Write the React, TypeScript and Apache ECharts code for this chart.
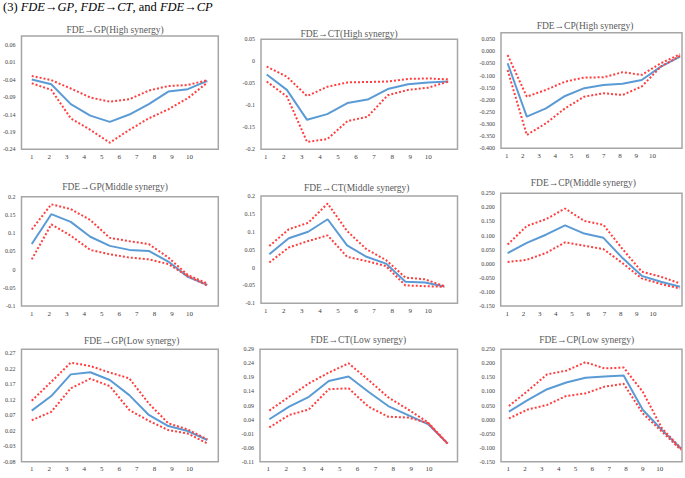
import React, { useEffect, useRef } from "react";
import * as echarts from "echarts";

// ---------- data ----------
const PERIODS = [1, 2, 3, 4, 5, 6, 7, 8, 9, 10];
const X_TICK_LABELS = ["1", "2", "3", "4", "5", "6", "7", "8", "9", "10"];

const HEADING = "(3) FDE→GP, FDE→CT, and FDE→CP";
const PANEL_TITLES = [
  "FDE→GP(High synergy)", "FDE→CT(High synergy)", "FDE→CP(High synergy)",
  "FDE→GP(Middle synergy)", "FDE→CT(Middle synergy)", "FDE→CP(Middle synergy)",
  "FDE→GP(Low synergy)", "FDE→CT(Low synergy)", "FDE→CP(Low synergy)",
];

// High synergy
const GP_HIGH_IRF = [-0.039, -0.053, -0.110, -0.143, -0.161, -0.140, -0.110, -0.074, -0.067, -0.043];
const GP_HIGH_UP = [-0.029, -0.041, -0.065, -0.091, -0.103, -0.096, -0.071, -0.058, -0.055, -0.041];
const GP_HIGH_LO = [-0.050, -0.069, -0.151, -0.184, -0.221, -0.184, -0.151, -0.125, -0.093, -0.048];

const CT_HIGH_IRF = [-0.030, -0.065, -0.133, -0.120, -0.095, -0.087, -0.063, -0.052, -0.048, -0.046];
const CT_HIGH_UP = [-0.012, -0.035, -0.079, -0.058, -0.048, -0.047, -0.046, -0.040, -0.039, -0.041];
const CT_HIGH_LO = [-0.046, -0.080, -0.183, -0.177, -0.136, -0.126, -0.077, -0.065, -0.060, -0.046];

const CP_HIGH_IRF = [-0.049, -0.269, -0.235, -0.184, -0.152, -0.139, -0.134, -0.118, -0.063, -0.022];
const CP_HIGH_UP = [-0.015, -0.187, -0.159, -0.125, -0.108, -0.107, -0.086, -0.097, -0.049, -0.012];
const CP_HIGH_LO = [-0.077, -0.345, -0.297, -0.235, -0.187, -0.173, -0.180, -0.145, -0.063, -0.019];

// Middle synergy
const GP_MID_IRF = [0.070, 0.152, 0.131, 0.090, 0.065, 0.054, 0.051, 0.022, -0.020, -0.042];
const GP_MID_UP = [0.110, 0.179, 0.166, 0.136, 0.087, 0.078, 0.070, 0.033, -0.015, -0.038];
const GP_MID_LO = [0.028, 0.124, 0.093, 0.054, 0.042, 0.033, 0.028, 0.015, -0.018, -0.044];

const CT_MID_IRF = [0.037, 0.082, 0.100, 0.135, 0.062, 0.030, 0.011, -0.040, -0.042, -0.053];
const CT_MID_UP = [0.060, 0.107, 0.125, 0.179, 0.102, 0.051, 0.021, -0.028, -0.033, -0.052];
const CT_MID_LO = [0.014, 0.056, 0.074, 0.090, 0.030, 0.018, 0.004, -0.050, -0.052, -0.054];

const CP_MID_IRF = [0.038, 0.074, 0.103, 0.136, 0.107, 0.092, 0.020, -0.043, -0.064, -0.082];
const CP_MID_UP = [0.068, 0.134, 0.158, 0.196, 0.152, 0.138, 0.052, -0.028, -0.046, -0.070];
const CP_MID_LO = [0.006, 0.014, 0.038, 0.076, 0.064, 0.052, 0.002, -0.052, -0.072, -0.088];

// Low synergy
const GP_LOW_IRF = [0.085, 0.132, 0.202, 0.209, 0.184, 0.135, 0.071, 0.035, 0.019, -0.010];
const GP_LOW_UP = [0.117, 0.178, 0.240, 0.229, 0.208, 0.189, 0.108, 0.044, 0.024, -0.008];
const GP_LOW_LO = [0.054, 0.081, 0.157, 0.188, 0.164, 0.087, 0.052, 0.022, 0.011, -0.021];

const CT_LOW_IRF = [0.041, 0.086, 0.121, 0.177, 0.193, 0.139, 0.088, 0.056, 0.024, -0.045];
const CT_LOW_UP = [0.072, 0.121, 0.169, 0.207, 0.240, 0.181, 0.119, 0.076, 0.030, -0.045];
const CT_LOW_LO = [0.012, 0.056, 0.076, 0.148, 0.151, 0.086, 0.050, 0.047, 0.028, -0.047];

const CP_LOW_IRF = [0.028, 0.070, 0.108, 0.132, 0.149, 0.153, 0.157, 0.035, -0.037, -0.103];
const CP_LOW_UP = [0.048, 0.103, 0.161, 0.174, 0.204, 0.182, 0.185, 0.099, -0.031, -0.103];
const CP_LOW_LO = [0.004, 0.036, 0.052, 0.084, 0.093, 0.117, 0.127, 0.022, -0.043, -0.108];

// ---------- layout (pixels) ----------
type Panel = {
  title: string; tx: number; ty: number;
  L: number; R: number; T: number; B: number;
  lab1: number; lab10: number; d1: number; d10: number;
  yMin: number; yMax: number; yStep: number; dec: number | null;
  irf: number[]; up: number[]; lo: number[];
};

const PANELS: Panel[] = [
  { title: PANEL_TITLES[0], tx: 115, ty: 30, L: 20.7, R: 218.3, T: 36, B: 149.3, lab1: 31, lab10: 189.3, d1: 31, d10: 207.3,
    yMin: -0.24, yMax: 0.086, yStep: 0.05, dec: 2, irf: GP_HIGH_IRF, up: GP_HIGH_UP, lo: GP_HIGH_LO },
  { title: PANEL_TITLES[1], tx: 349, ty: 34, L: 261, R: 457.5, T: 39.3, B: 149.3, lab1: 265.7, lab10: 428.3, d1: 266.7, d10: 448.3,
    yMin: -0.2, yMax: 0.05, yStep: 0.05, dec: null, irf: CT_HIGH_IRF, up: CT_HIGH_UP, lo: CT_HIGH_LO },
  { title: PANEL_TITLES[2], tx: 585, ty: 26, L: 501, R: 684.3, T: 32.7, B: 148.3, lab1: 506.7, lab10: 654.3, d1: 507.7, d10: 682.3,
    yMin: -0.4, yMax: 0.077, yStep: 0.05, dec: 3, irf: CP_HIGH_IRF, up: CP_HIGH_UP, lo: CP_HIGH_LO },
  { title: PANEL_TITLES[3], tx: 115, ty: 186.7, L: 20.7, R: 218.3, T: 196.7, B: 306, lab1: 31, lab10: 189.3, d1: 31, d10: 207.3,
    yMin: -0.1, yMax: 0.2, yStep: 0.05, dec: null, irf: GP_MID_IRF, up: GP_MID_UP, lo: GP_MID_LO },
  { title: PANEL_TITLES[4], tx: 356.7, ty: 188.3, L: 261, R: 457.5, T: 196, B: 303.3, lab1: 265.7, lab10: 428.3, d1: 269.3, d10: 444.3,
    yMin: -0.1, yMax: 0.2, yStep: 0.05, dec: null, irf: CT_MID_IRF, up: CT_MID_UP, lo: CT_MID_LO },
  { title: PANEL_TITLES[5], tx: 583.3, ty: 182.7, L: 500.7, R: 684.3, T: 193.3, B: 306, lab1: 507.3, lab10: 655, d1: 507.7, d10: 682.3,
    yMin: -0.15, yMax: 0.25, yStep: 0.05, dec: 3, irf: CP_MID_IRF, up: CP_MID_UP, lo: CP_MID_LO },
  { title: PANEL_TITLES[6], tx: 131.7, ty: 340.7, L: 20.7, R: 218.3, T: 349.3, B: 461.7, lab1: 31, lab10: 189.3, d1: 31, d10: 207.3,
    yMin: -0.08, yMax: 0.283, yStep: 0.05, dec: 2, irf: GP_LOW_IRF, up: GP_LOW_UP, lo: GP_LOW_LO },
  { title: PANEL_TITLES[7], tx: 358.3, ty: 340, L: 260, R: 457.5, T: 349.3, B: 461.7, lab1: 268.3, lab10: 429, d1: 269.3, d10: 447.7,
    yMin: -0.11, yMax: 0.29, yStep: 0.05, dec: 2, irf: CT_LOW_IRF, up: CT_LOW_UP, lo: CT_LOW_LO },
  { title: PANEL_TITLES[8], tx: 586.7, ty: 340, L: 501, R: 684.3, T: 349.3, B: 461.7, lab1: 508.3, lab10: 661.7, d1: 509, d10: 683.3,
    yMin: -0.15, yMax: 0.25, yStep: 0.05, dec: 3, irf: CP_LOW_IRF, up: CP_LOW_UP, lo: CP_LOW_LO },
];

const SERIF = '"Liberation Serif", "Times New Roman", serif';
const BLUE = "#5b9bd5";
const RED = "#ff3f3f";

function fmtY(v: number, dec: number | null): string {
  let x = Math.abs(v) < 1e-9 ? 0 : v;
  if (dec == null) return String(parseFloat(x.toFixed(6)));
  return x.toFixed(dec);
}

function buildOption() {
  const grid: any[] = [];
  const xAxis: any[] = [];
  const yAxis: any[] = [];
  const series: any[] = [];
  const graphic: any[] = [];

  graphic.push({
    type: "text",
    left: 3,
    top: 0,
    style: {
      text: "{n|(3) }{i|FDE→GP}{n|, }{i|FDE→CT}{n|, and }{i|FDE→CP}",
      rich: {
        n: { fontFamily: SERIF, fontSize: 12.5, fill: "#000", color: "#000" },
        i: { fontFamily: SERIF, fontSize: 12.5, fontStyle: "italic", fill: "#000", color: "#000" },
      },
    },
  });

  PANELS.forEach((p, i) => {
    grid.push({
      left: p.L, top: p.T, width: p.R - p.L, height: p.B - p.T,
      show: true, borderColor: "#a6a6a6", borderWidth: 1.5, backgroundColor: "transparent",
    });
    const sp = (p.lab10 - p.lab1) / 9;
    const a = 1 - (p.lab1 - p.L) / sp;
    const b = 1 + (p.R - p.lab1) / sp;
    const dsp = (p.d10 - p.d1) / 9;
    const c = 1 - (p.d1 - p.L) / dsp;
    const d = 1 + (p.R - p.d1) / dsp;
    xAxis.push({
      type: "value", gridIndex: i, min: a, max: b, minInterval: 1, maxInterval: 1,
      axisLine: { show: false }, axisTick: { show: false }, splitLine: { show: false },
      axisLabel: {
        fontFamily: SERIF, fontSize: 7, color: "#404040", margin: 4,
        formatter: (v: number) => {
          const r = Math.round(v);
          if (Math.abs(v - r) > 1e-6) return "";
          return X_TICK_LABELS[r - 1] ?? "";
        },
      },
    });
    xAxis.push({ type: "value", gridIndex: i, min: c, max: d, show: false });

    const steps = (p.yMax - p.yMin) / p.yStep;
    const maxIsTick = Math.abs(steps - Math.round(steps)) < 1e-6;
    yAxis.push({
      type: "value", gridIndex: i, min: p.yMin, max: p.yMax, interval: p.yStep,
      axisLine: { show: false }, axisTick: { show: false }, splitLine: { show: false },
      axisLabel: {
        fontFamily: SERIF, fontSize: 6, color: "#404040", margin: 6,
        showMaxLabel: maxIsTick, showMinLabel: true,
        formatter: (v: number) => fmtY(v, p.dec),
      },
    });

    const mk = (vals: number[], color: string, dashed: boolean) => ({
      type: "line", xAxisIndex: 2 * i + 1, yAxisIndex: i,
      data: vals.map((v, k) => [PERIODS[k], v]),
      symbol: "none", showSymbol: false, silent: true,
      lineStyle: { color, width: 2, type: dashed ? [2, 2] : "solid" },
      z: dashed ? 3 : 2,
    });
    series.push(mk(p.irf, BLUE, false));
    series.push(mk(p.up, RED, true));
    series.push(mk(p.lo, RED, true));

    graphic.push({
      type: "text", x: p.tx, y: p.ty, z: 10,
      style: {
        text: p.title, fontFamily: SERIF, fontSize: 9.5, fill: "#595959",
        align: "center", verticalAlign: "middle",
      },
    });
  });

  return { animation: false, backgroundColor: "#fff", grid, xAxis, yAxis, series, graphic };
}

export default function App() {
  const ref = useRef<HTMLDivElement>(null);
  useEffect(() => {
    if (!ref.current) return;
    const chart = echarts.init(ref.current, undefined, { renderer: "svg" });
    chart.setOption(buildOption() as any);
    return () => chart.dispose();
  }, []);
  return (
    <div
      ref={ref}
      style={{ position: "absolute", left: 0, top: 0, width: 685, height: 478, background: "#fff" }}
    />
  );
}
